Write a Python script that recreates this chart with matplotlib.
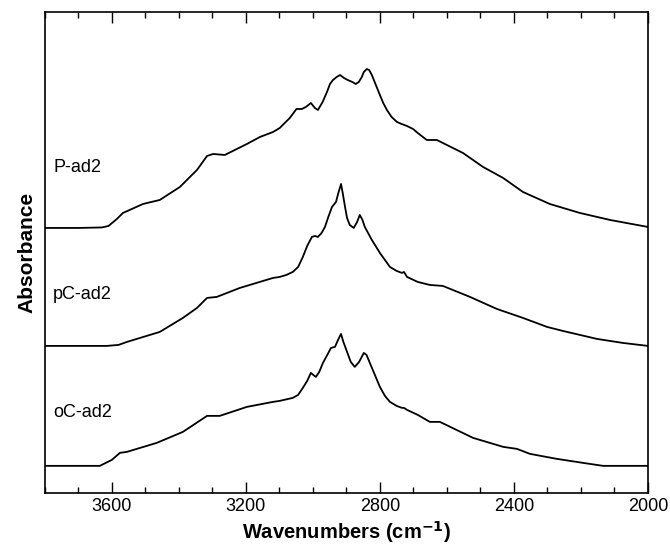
import numpy as np
import matplotlib.pyplot as plt
from matplotlib.ticker import MultipleLocator

plt.rcParams['font.family'] = ['Liberation Sans', 'DejaVu Sans']

# P-ad2 (top trace)
wn_p = [3800, 3700, 3630, 3610, 3585, 3567, 3507, 3457, 3397, 3346, 3316, 3298, 3263,
        3197, 3158, 3119, 3099, 3069, 3049, 3033, 3021, 3006, 2994, 2985, 2971, 2958,
        2949, 2940, 2929, 2919, 2907, 2896, 2882, 2872, 2863, 2854, 2848, 2839, 2832,
        2824, 2812, 2800, 2790, 2779, 2765, 2749, 2735, 2719, 2701, 2687, 2660, 2630,
        2552, 2492, 2432, 2373, 2293, 2203, 2113, 2000]
abs_p = [2.65, 2.65, 2.655, 2.67, 2.74, 2.80, 2.89, 2.93, 3.06, 3.23, 3.37, 3.39, 3.38,
         3.49, 3.56, 3.61, 3.65, 3.75, 3.84, 3.84, 3.86, 3.90, 3.85, 3.83, 3.91, 4.01,
         4.09, 4.13, 4.16, 4.18, 4.15, 4.13, 4.11, 4.09, 4.11, 4.16, 4.21, 4.24, 4.23,
         4.18, 4.08, 3.98, 3.90, 3.83, 3.76, 3.71, 3.69, 3.67, 3.64, 3.60, 3.53, 3.53,
         3.40, 3.26, 3.15, 3.01, 2.89, 2.80, 2.73, 2.66]

# pC-ad2 (middle trace)
wn_pc = [3800, 3700, 3615, 3580, 3555, 3457, 3388, 3346, 3316, 3287, 3218, 3119, 3099,
         3079, 3060, 3044, 3030, 3017, 3003, 2994, 2985, 2974, 2964, 2954, 2943, 2931,
         2924, 2916, 2911, 2904, 2898, 2890, 2878, 2868, 2860, 2852, 2845, 2824, 2800,
         2770, 2750, 2734, 2728, 2719, 2687, 2651, 2612, 2531, 2451, 2373, 2301, 2254,
         2152, 2075, 2000]
abs_pc = [1.47, 1.47, 1.47, 1.48, 1.51, 1.61, 1.75, 1.85, 1.95, 1.96, 2.05, 2.15, 2.16,
          2.18, 2.21, 2.26, 2.36, 2.47, 2.56, 2.57, 2.56, 2.60, 2.66, 2.76, 2.86, 2.91,
          3.00, 3.09, 3.00, 2.86, 2.75, 2.68, 2.65, 2.71, 2.78, 2.73, 2.66, 2.53, 2.40,
          2.26, 2.22, 2.20, 2.21, 2.16, 2.11, 2.08, 2.07, 1.96, 1.84, 1.75, 1.66, 1.62,
          1.54, 1.50, 1.47]

# oC-ad2 (bottom trace)
wn_oc = [3800, 3700, 3636, 3600, 3576, 3555, 3466, 3388, 3316, 3278, 3197, 3119, 3099,
         3060, 3044, 3030, 3017, 3006, 2999, 2991, 2981, 2970, 2957, 2946, 2934, 2925,
         2916, 2909, 2898, 2887, 2875, 2862, 2848, 2840, 2830, 2815, 2800, 2785, 2770,
         2750, 2734, 2728, 2719, 2687, 2651, 2621, 2522, 2432, 2391, 2352, 2272, 2194,
         2134, 2000]
abs_oc = [0.27, 0.27, 0.27, 0.33, 0.40, 0.41, 0.50, 0.61, 0.77, 0.77, 0.86, 0.91, 0.92,
          0.95, 0.98, 1.05, 1.12, 1.20, 1.18, 1.16, 1.21, 1.30, 1.38, 1.45, 1.46, 1.53,
          1.59, 1.51, 1.41, 1.31, 1.26, 1.31, 1.40, 1.38, 1.30, 1.18, 1.06, 0.97, 0.91,
          0.87, 0.85, 0.85, 0.83, 0.78, 0.71, 0.71, 0.55, 0.46, 0.44, 0.39, 0.34, 0.30,
          0.27, 0.27]

labels = ['P-ad2', 'pC-ad2', 'oC-ad2']
label_y = [3.25, 1.98, 0.80]

fig = plt.figure(figsize=(6.7, 5.47), dpi=100)
ax = fig.add_axes([0.067, 0.099, 0.9, 0.879])

for wn, a in [(wn_p, abs_p), (wn_pc, abs_pc), (wn_oc, abs_oc)]:
    ax.plot(wn, a, color='black', linewidth=1.3, solid_joinstyle='round')

for lab, y in zip(labels, label_y):
    ax.text(3775, y, lab, fontsize=13, ha='left', va='center')

ax.set_xlim(3800, 2000)
ax.set_ylim(0, 4.81)
ax.xaxis.set_major_locator(MultipleLocator(400))
ax.xaxis.set_minor_locator(MultipleLocator(100))
ax.tick_params(axis='x', which='both', direction='in', top=True, labelsize=13)
ax.tick_params(axis='x', which='major', length=8, width=1)
ax.tick_params(axis='x', which='minor', length=4.5, width=1)
ax.set_yticks([])
for s in ax.spines.values():
    s.set_linewidth(1.2)

ax.set_xlabel('Wavenumbers (cm$^{\\mathbf{-1}}$)', fontsize=14.5, fontweight='bold', labelpad=3)
ax.set_ylabel('Absorbance', fontsize=15, fontweight='bold', labelpad=6)

fig.savefig('out.png', dpi=100)
